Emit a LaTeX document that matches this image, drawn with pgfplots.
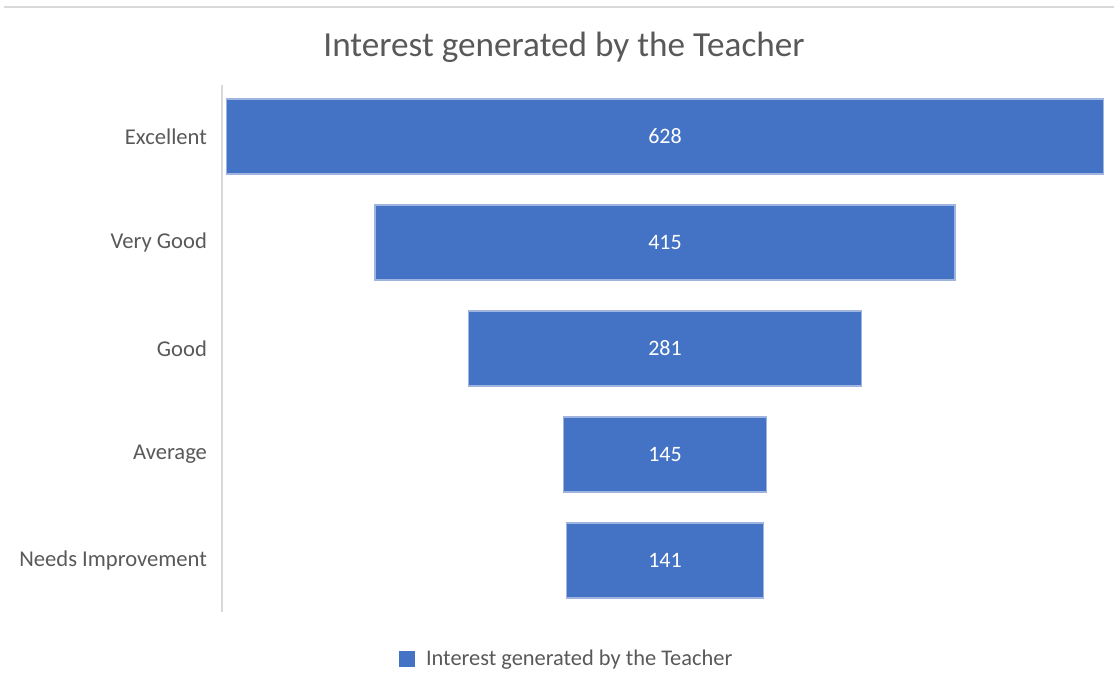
\documentclass[border=0pt]{standalone}
\usepackage{pgfplots}
\pgfplotsset{compat=1.18}
\usepackage{pgfplotstable}
\usepackage{fontspec}
\setmainfont{Carlito}
\definecolor{barblue}{HTML}{4472C4}
\definecolor{baredge}{HTML}{9FB4DF}
\definecolor{txtgray}{HTML}{595959}
\definecolor{linegray}{HTML}{D9D9D9}
\pgfplotstableread{
y v
0 628
1 415
2 281
3 145
4 141
}\funnel
\begin{document}
\begin{tikzpicture}[x=1pt,y=1pt]
\useasboundingbox (0,0) rectangle (557,349);
\draw[linegray, line width=1.2pt] (2,345.5) -- (557,345.5);
\node[text=txtgray, font=\fontsize{17.6}{20}\selectfont] at (282,325.5) {Interest generated by the Teacher};
\begin{axis}[
  at={(111pt,43pt)}, anchor=south west,
  width=443pt, height=263.5pt, scale only axis,
  xmin=-3, xmax=631, ymin=-0.485, ymax=4.485, y dir=reverse,
  stack plots=x,
  axis x line=none, axis y line*=left,
  axis line style={linegray, line width=0.8pt},
  ytick={0,1,2,3,4},
  yticklabels={Excellent, Very Good, Good, Average, Needs Improvement},
  major tick length=0pt,
  yticklabel style={text=txtgray, font=\fontsize{11.3}{13}\selectfont, xshift=-4pt},
  /pgf/number format/assume math mode=true,
  legend style={at={(0.39,-0.089)}, anchor=center, draw=none, fill=none,
    font=\fontsize{11.2}{13}\selectfont, text=txtgray},
  legend image code/.code={\fill[barblue] (0pt,-3.75pt) rectangle (7.5pt,3.75pt); \path (11pt,0pt);},
  clip=false,
]
\addplot[xbar, bar shift=0pt, bar width=37.5pt, draw=none, fill=none, forget plot]
  table[x expr={(628-\thisrow{v})/2}, y=y] {\funnel};
\addplot[xbar, bar shift=0pt, bar width=37.5pt, fill=barblue, draw=baredge, line width=0.6pt]
  table[x=v, y=y] {\funnel};
\addlegendentry{Interest generated by the Teacher}
\addplot[only marks, mark=none, draw=none, forget plot,
  nodes near coords, point meta=explicit,
  every node near coord/.style={anchor=center, text=white, font=\fontsize{11}{13}\selectfont}]
  table[x expr={-\thisrow{v}/2}, y=y, meta=v] {\funnel};
\end{axis}
\end{tikzpicture}
\end{document}
